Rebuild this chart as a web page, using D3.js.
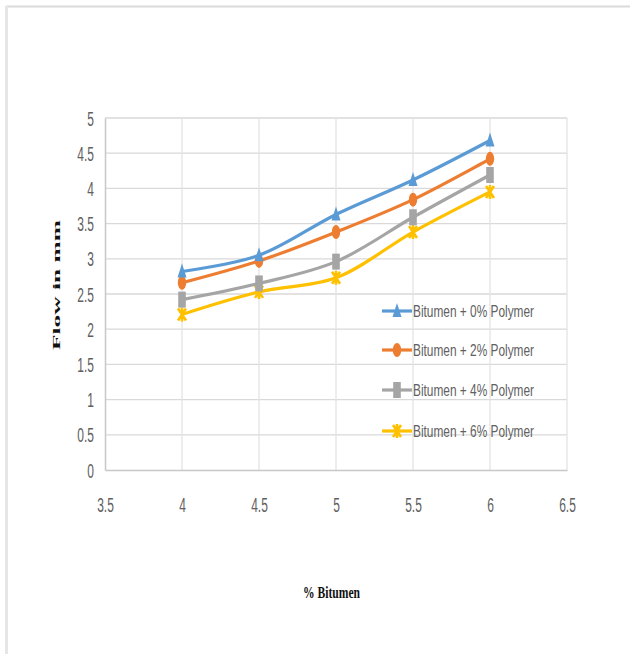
<!DOCTYPE html>
<html>
<head>
<meta charset="utf-8">
<script src="https://cdn.jsdelivr.net/npm/d3@7"></script>
<style>
  html, body { margin: 0; padding: 0; background: #fff; }
  svg { display: block; }
</style>
</head>
<body>
<svg id="chart" width="630" height="654"></svg>
<script>
// Bitumen content (%) on the x axis
const bitumen = [4, 4.5, 5, 5.5, 6];

// Flow (mm) for each polymer dosage
const flow0 = [2.82, 3.05, 3.63, 4.12, 4.68];
const flow2 = [2.66, 2.97, 3.38, 3.84, 4.42];
const flow4 = [2.42, 2.65, 2.96, 3.59, 4.19];
const flow6 = [2.21, 2.53, 2.73, 3.38, 3.95];

const seriesNames = ["Bitumen + 0% Polymer", "Bitumen + 2% Polymer", "Bitumen + 4% Polymer", "Bitumen + 6% Polymer"];
const seriesColors = ["#5b9bd5", "#ed7d31", "#a5a5a5", "#ffc000"];
const seriesMarkers = ["triangle", "circle", "square", "star"];

const xTicks = [3.5, 4, 4.5, 5, 5.5, 6, 6.5];
const yTicks = [0, 0.5, 1, 1.5, 2, 2.5, 3, 3.5, 4, 4.5, 5];

const series = [flow0, flow2, flow4, flow6].map((vals, i) => ({
  name: seriesNames[i],
  color: seriesColors[i],
  marker: seriesMarkers[i],
  points: bitumen.map((b, j) => ({ x: b, y: vals[j] }))
}));

const svg = d3.select("#chart");
const plot = { left: 105, right: 567, top: 118, bottom: 470 };

const x = d3.scaleLinear().domain([3.5, 6.5]).range([plot.left, plot.right]);
const y = d3.scaleLinear().domain([0, 5]).range([plot.bottom, plot.top]);

// faint frame around the figure
svg.append("line").attr("x1", 6).attr("x2", 630).attr("y1", 6.5).attr("y2", 6.5)
  .attr("stroke", "#dadada").attr("stroke-width", 2);
svg.append("line").attr("x1", 6.5).attr("x2", 6.5).attr("y1", 6).attr("y2", 654)
  .attr("stroke", "#e6e6e6").attr("stroke-width", 3);

// gridlines
const grid = svg.append("g");
grid.selectAll(".hg").data(yTicks.slice(1)).join("line")
  .attr("x1", plot.left).attr("x2", plot.right)
  .attr("y1", d => y(d)).attr("y2", d => y(d))
  .attr("stroke", "#d9d9d9").attr("stroke-width", 1.3);
grid.selectAll(".vg").data(xTicks.slice(1)).join("line")
  .attr("x1", d => x(d)).attr("x2", d => x(d))
  .attr("y1", plot.top).attr("y2", plot.bottom)
  .attr("stroke", "#e3e3e3").attr("stroke-width", 1.3);

// axes built with d3 axis generators, then restyled
const xAxis = svg.append("g").attr("transform", `translate(0,${plot.bottom})`)
  .call(d3.axisBottom(x).tickValues(xTicks).tickSize(0).tickPadding(0).tickFormat(d3.format("")));
const yAxis = svg.append("g").attr("transform", `translate(${plot.left},0)`)
  .call(d3.axisLeft(y).tickValues(yTicks).tickSize(0).tickPadding(0).tickFormat(d3.format("")));

[xAxis, yAxis].forEach(a => {
  a.select(".domain").attr("stroke", "#c8c8c8").attr("stroke-width", 1.5);
  a.selectAll("text").attr("fill", "#606060")
    .style("font-family", "'Liberation Sans', Arial, sans-serif")
    .style("font-size", "20px");
});

xAxis.selectAll(".tick text")
  .attr("y", 0).attr("dy", 0)
  .attr("transform", "translate(0,42) scale(0.6,1)")
  .attr("text-anchor", "middle");
yAxis.selectAll(".tick text")
  .attr("x", 0).attr("dy", 0)
  .attr("transform", "translate(-11,7) scale(0.6,1)")
  .attr("text-anchor", "end");

// markers: narrow, tall shapes
function drawMarker(g, type, color) {
  if (type === "triangle") {
    g.append("path").attr("d", "M0,-8 L4.5,6 L-4.5,6 Z").attr("fill", color);
  } else if (type === "circle") {
    g.append("ellipse").attr("rx", 4.2).attr("ry", 7).attr("fill", color);
  } else if (type === "square") {
    g.append("path").attr("d", "M-3.8,-8 L3.8,-8 L3.8,8 L-3.8,8 Z").attr("fill", color);
  } else {
    g.append("path").attr("d", "M-4,-6 L4,6 M-4,6 L4,-6 M0,-7 L0,7").attr("stroke", color)
      .attr("stroke-width", 2.6).attr("fill", "none");
  }
}

const line = d3.line().x(d => x(d.x)).y(d => y(d.y)).curve(d3.curveCatmullRom.alpha(0.5));

// draw lower series first so blue sits on top
series.slice().reverse().forEach(s => {
  svg.append("path").datum(s.points).attr("d", line)
    .attr("fill", "none").attr("stroke", s.color).attr("stroke-width", 3.2)
    .attr("stroke-linejoin", "round");
  s.points.forEach(p => {
    const g = svg.append("g").attr("transform", `translate(${x(p.x)},${y(p.y)})`);
    drawMarker(g, s.marker, s.color);
  });
});

// legend
const legendY = [311, 350, 390, 431];
series.forEach((s, i) => {
  const g = svg.append("g").attr("transform", `translate(382,${legendY[i]})`);
  g.append("line").attr("x1", 0).attr("x2", 30).attr("y1", 0).attr("y2", 0)
    .attr("stroke", s.color).attr("stroke-width", 3.2);
  const m = g.append("g").attr("transform", "translate(15,0)");
  drawMarker(m, s.marker, s.color);
  g.append("text").attr("x", 31).attr("y", 6)
    .attr("textLength", 121).attr("lengthAdjust", "spacingAndGlyphs")
    .attr("fill", "#606060")
    .style("font-family", "'Liberation Sans', Arial, sans-serif")
    .style("font-size", "16px")
    .text(s.name);
});

// axis titles
svg.append("text")
  .attr("transform", "translate(60,285) rotate(-90)")
  .attr("text-anchor", "middle")
  .attr("textLength", 130).attr("lengthAdjust", "spacingAndGlyphs")
  .style("font-family", "'Liberation Serif', 'Times New Roman', serif")
  .style("font-weight", "bold").style("font-size", "11px")
  .attr("fill", "#111")
  .text("Flow in mm");

svg.append("text")
  .attr("x", 303).attr("y", 598)
  .attr("textLength", 57).attr("lengthAdjust", "spacingAndGlyphs")
  .style("font-family", "'Liberation Serif', 'Times New Roman', serif")
  .style("font-weight", "bold").style("font-size", "17px")
  .attr("fill", "#111")
  .text("% Bitumen");
</script>
</body>
</html>
